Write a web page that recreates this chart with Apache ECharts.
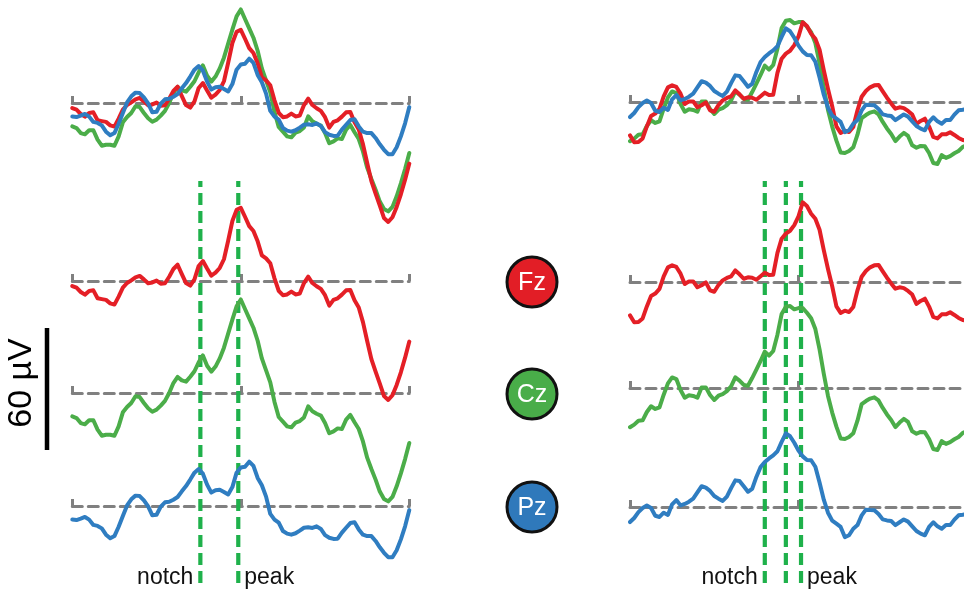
<!DOCTYPE html>
<html>
<head>
<meta charset="utf-8">
<script src="https://cdn.jsdelivr.net/npm/echarts@6/dist/echarts.min.js"></script>
<style>
  html, body { margin: 0; padding: 0; background: #fff; }
  #chart { width: 964px; height: 599px; }
</style>
</head>
<body>
<div id="chart"></div>
<script>
// ERP averages, 81 samples at 5 ms from -200 ms to +200 ms (µV)
const sampleTimes = Array.from({ length: 81 }, (_, i) => -200 + 5 * i);

const channels = ['Fz', 'Cz', 'Pz'];

const leftFz = [
  -2.5, -3.3, -5.4, -6.7, -4.9, -4.6, -8.5, -8.9, -9.3, -11.0,
  -11.6, -7.7, -3.3, -1.0, 0.3, 1.8, 2.5, 0.8, -1.1, -0.7,
  0.2, -1.3, -1.1, 2.1, 5.9, 8.0, 3.4, -1.0, -2.3, 0.8,
  7.4, 9.8, 6.1, 2.6, 4.1, 6.4, 10.7, 19.8, 29.5, 35.0,
  36.0, 31.6, 27.0, 24.6, 19.5, 12.6, 11.1, 8.7, 1.3, -4.8,
  -7.0, -6.6, -5.2, -6.6, -6.2, -1.0, 2.1, -1.0, -2.6, -3.9,
  -7.0, -12.1, -9.3, -8.5, -6.7, -4.6, -4.4, -9.5, -13.0, -20.2,
  -29.5, -38.4, -44.6, -50.5, -56.6, -58.5, -56.2, -51.1, -44.9, -37.7, -29.8
];
const leftCz = [
  -11.5, -12.3, -14.8, -15.4, -13.4, -13.4, -18.0, -21.0, -20.5, -20.5,
  -21.0, -16.4, -9.5, -6.9, -4.9, -1.6, -2.0, -4.9, -7.5, -9.2,
  -8.2, -6.2, -3.9, 0.0, 4.9, 7.9, 6.2, 5.6, 8.0, 10.7,
  15.1, 18.5, 13.4, 10.5, 13.0, 17.0, 22.3, 29.2, 36.1, 42.6,
  46.0, 41.3, 36.7, 32.1, 25.7, 17.0, 11.1, 5.2, -4.4, -11.8,
  -14.1, -16.4, -16.9, -14.6, -13.8, -12.0, -6.6, -9.0, -10.2, -11.1,
  -14.8, -19.8, -18.9, -17.4, -17.7, -13.1, -10.8, -14.4, -17.7, -23.8,
  -31.8, -37.4, -42.6, -48.5, -52.1, -53.3, -51.1, -45.9, -39.5, -32.5, -24.6
];
const leftPz = [
  -6.6, -6.9, -6.2, -5.4, -6.7, -9.3, -9.8, -11.0, -14.1, -15.9,
  -14.8, -10.2, -4.9, 0.3, 3.3, 5.1, 4.9, 2.8, -0.2, -4.6,
  -4.3, -0.3, 1.8, 2.1, 3.1, 4.4, 7.2, 9.8, 13.0, 16.4,
  18.2, 15.9, 10.5, 6.6, 7.7, 8.0, 6.9, 5.7, 9.3, 16.4,
  18.9, 19.3, 21.8, 19.7, 13.8, 10.2, 4.6, -3.9, -6.7, -8.2,
  -12.3, -13.6, -14.1, -13.4, -12.1, -10.7, -10.5, -10.8, -10.0, -11.3,
  -14.3, -15.6, -16.2, -16.1, -13.1, -10.7, -8.4, -8.0, -11.5, -14.1,
  -14.8, -14.8, -17.2, -20.3, -23.0, -25.2, -25.2, -21.8, -16.4, -10.0, -2.0
];
const rightFz = [
  -16.4, -19.8, -19.7, -17.9, -12.0, -6.9, -5.7, -3.4, 2.8, 7.2,
  8.2, 7.4, 4.1, -1.0, 0.3, 0.3, -2.6, -1.6, -0.2, -4.1,
  -4.8, -1.5, 0.8, 2.0, 2.8, 5.7, 3.8, 1.6, 2.3, 2.1,
  1.1, 2.8, 4.6, 3.4, 3.6, 14.3, 21.3, 23.8, 25.2, 28.0,
  32.3, 39.2, 37.4, 33.6, 31.1, 25.7, 15.7, 6.4, -2.1, -12.0,
  -15.2, -14.1, -14.8, -12.3, -4.1, 2.6, 5.4, 7.2, 8.2, 8.4,
  5.2, 2.1, -0.7, -3.3, -2.6, -3.0, -4.4, -6.2, -10.8, -9.3,
  -8.2, -12.1, -17.2, -17.9, -15.9, -15.9, -14.9, -16.2, -17.7, -18.7, -19.2
];
const rightCz = [
  -19.3, -18.0, -16.1, -15.9, -11.8, -9.0, -10.3, -9.5, -3.3, 2.3,
  5.2, 4.4, -1.0, -4.8, -3.6, -3.9, -4.8, 0.3, 0.3, -3.4,
  -5.9, -3.8, -3.0, -1.5, 0.8, 5.2, 3.6, 1.5, 1.1, 4.9,
  9.0, 13.3, 17.9, 15.9, 18.2, 26.2, 36.4, 40.0, 40.3, 38.7,
  39.3, 39.3, 37.0, 34.3, 29.0, 19.0, 7.0, -3.9, -12.1, -19.0,
  -24.8, -25.1, -24.1, -22.3, -16.1, -7.9, -6.4, -5.2, -4.6, -6.1,
  -9.8, -13.0, -15.7, -19.2, -17.0, -15.2, -16.7, -21.3, -22.5, -21.6,
  -21.8, -25.1, -30.0, -30.5, -26.1, -27.5, -26.6, -25.2, -24.1, -22.1, -21.3
];
const rightPz = [
  -7.4, -5.4, -2.5, -0.5, 0.7, -0.5, -4.3, -4.9, -2.8, -3.9,
  1.3, 3.4, 0.8, 1.5, 2.6, 4.1, 7.2, 10.2, 9.5, 7.9,
  5.4, 4.1, 3.0, 5.1, 9.3, 13.1, 12.8, 10.2, 7.5, 8.9,
  14.8, 19.7, 22.1, 23.9, 25.4, 27.4, 32.0, 36.2, 34.8, 31.6,
  27.7, 24.9, 23.1, 23.0, 19.8, 12.0, 3.6, -2.8, -6.7, -8.2,
  -9.8, -14.8, -13.9, -10.7, -8.9, -4.1, -1.3, -1.5, -1.6, -3.4,
  -6.1, -6.6, -6.9, -8.9, -7.5, -6.1, -7.2, -9.5, -11.8, -13.1,
  -13.9, -9.8, -7.5, -9.5, -10.7, -8.9, -8.9, -6.2, -4.1, -3.8, -3.3
];

// Event markers (ms): notch ... peak
const leftMarkers = [-48, -3];
const rightMarkers = [-40, -15, 3];
const markerLabels = ['notch', 'peak'];

// Calibration bar (µV)
const scaleBarValue = 60;

// ---------------------------------------------------------------- layout & style
const PX_PER_UV = 122 / 60;
const Y_MIN = -70, Y_MAX = 50;
const T_MIN = -200, T_MAX = 200;
const COLORS = { Fz: '#e41f26', Cz: '#4bad49', Pz: '#2f7dc1' };
const DOT_COLORS = { Fz: '#e21e26', Cz: '#49ad49', Pz: '#2f79bb' };
const MARKER_COLOR = '#1fb14b';
const BASE_COLOR = '#808080';
const FONT = '"Liberation Sans", Arial, Helvetica, sans-serif';

const panels = [
  { left: 72.3, width: 337, baselines: [103, 281, 393, 506],
    traces: { Fz: leftFz, Cz: leftCz, Pz: leftPz }, markers: leftMarkers },
  { left: 630, width: 337, baselines: [102, 282, 388, 507],
    traces: { Fz: rightFz, Cz: rightCz, Pz: rightPz }, markers: rightMarkers }
];
const MARKER_TOP = 181, MARKER_BOTTOM = 583;

const grids = [], xAxes = [], yAxes = [], series = [];

function makeGrid(rect) {
  return Object.assign({ containLabel: false, outerBoundsMode: 'none' }, rect);
}

function addTraceGrid(panel, baseline) {
  const idx = grids.length;
  grids.push(makeGrid({
    left: panel.left, width: panel.width,
    top: baseline - Y_MAX * PX_PER_UV,
    height: (Y_MAX - Y_MIN) * PX_PER_UV
  }));
  xAxes.push({
    gridIndex: idx, type: 'value', min: T_MIN, max: T_MAX, interval: 200,
    axisLine: { show: true, onZero: true,
      lineStyle: { color: BASE_COLOR, width: 3, type: [10, 6] } },
    axisTick: { show: true, inside: true, length: 7,
      lineStyle: { color: BASE_COLOR, width: 3 } },
    axisLabel: { show: false }, splitLine: { show: false }
  });
  yAxes.push({
    gridIndex: idx, type: 'value', min: Y_MIN, max: Y_MAX, show: false,
    splitLine: { show: false }
  });
  return idx;
}

function traceSeries(idx, ch, values, z) {
  return {
    type: 'line', xAxisIndex: idx, yAxisIndex: idx,
    data: sampleTimes.map((t, i) => [t, values[i]]),
    showSymbol: false, symbol: 'none', clip: false, silent: true,
    lineStyle: { color: COLORS[ch], width: 4, cap: 'round', join: 'round' },
    z: z, animation: false
  };
}

panels.forEach(panel => {
  // dashed event markers spanning the stacked traces
  const mIdx = grids.length;
  grids.push(makeGrid({ left: panel.left, width: panel.width, top: MARKER_TOP,
    height: MARKER_BOTTOM - MARKER_TOP }));
  xAxes.push({ gridIndex: mIdx, type: 'value', min: T_MIN, max: T_MAX, show: false });
  yAxes.push({ gridIndex: mIdx, type: 'value', min: 0, max: 1, show: false });
  panel.markers.forEach(t => {
    series.push({
      type: 'line', xAxisIndex: mIdx, yAxisIndex: mIdx,
      data: [[t, 0], [t, 1]], showSymbol: false, symbol: 'none', silent: true,
      lineStyle: { color: MARKER_COLOR, width: 4.2, type: [12, 6] },
      z: 1, animation: false
    });
  });

  // overlay of all three channels
  const oIdx = addTraceGrid(panel, panel.baselines[0]);
  ['Cz', 'Fz', 'Pz'].forEach((ch, k) => {
    series.push(traceSeries(oIdx, ch, panel.traces[ch], 3 + k));
  });

  // one row per channel
  channels.forEach((ch, k) => {
    const idx = addTraceGrid(panel, panel.baselines[k + 1]);
    series.push(traceSeries(idx, ch, panel.traces[ch], 3));
  });
});

// calibration bar
const sIdx = grids.length;
grids.push(makeGrid({ left: 40, width: 14, top: 328, height: scaleBarValue * PX_PER_UV }));
xAxes.push({ gridIndex: sIdx, type: 'value', min: -1, max: 1, show: false });
yAxes.push({ gridIndex: sIdx, type: 'value', min: 0, max: scaleBarValue, show: false });
series.push({
  type: 'line', xAxisIndex: sIdx, yAxisIndex: sIdx,
  data: [[0, 0], [0, scaleBarValue]], showSymbol: false, symbol: 'none', silent: true,
  lineStyle: { color: '#000', width: 4.5 }, z: 3, animation: false
});

// ---------------------------------------------------------------- annotations
function timeToX(panel, t) {
  return panel.left + (t - T_MIN) / (T_MAX - T_MIN) * panel.width;
}

const graphics = [];
panels.forEach(panel => {
  const first = panel.markers[0], last = panel.markers[panel.markers.length - 1];
  graphics.push({
    type: 'text', x: timeToX(panel, first) - 7, y: 578, silent: true,
    style: { text: markerLabels[0], font: '23px ' + FONT, fill: '#111',
      align: 'right', verticalAlign: 'middle', textAlign: 'right', textVerticalAlign: 'middle' }
  });
  graphics.push({
    type: 'text', x: timeToX(panel, last) + 6, y: 578, silent: true,
    style: { text: markerLabels[1], font: '23px ' + FONT, fill: '#111',
      align: 'left', verticalAlign: 'middle', textAlign: 'left', textVerticalAlign: 'middle' }
  });
});

channels.forEach((ch, k) => {
  const cy = panels[0].baselines[k + 1] + 1;
  graphics.push({
    type: 'circle', silent: true, shape: { cx: 532, cy: cy, r: 25 },
    style: { fill: DOT_COLORS[ch], stroke: '#111', lineWidth: 3 }, z: 10
  });
  graphics.push({
    type: 'text', x: 532, y: cy + 1, silent: true, z: 11,
    style: { text: ch, font: '25px ' + FONT, fill: '#fff',
      align: 'center', verticalAlign: 'middle', textAlign: 'center', textVerticalAlign: 'middle' }
  });
});

graphics.push({
  type: 'text', x: 22, y: 383, rotation: Math.PI / 2, silent: true,
  style: { text: scaleBarValue + ' µV', font: '34px ' + FONT, fill: '#000',
    align: 'center', verticalAlign: 'middle', textAlign: 'center', textVerticalAlign: 'middle' }
});

const chart = echarts.init(document.getElementById('chart'), null, { renderer: 'canvas' });
chart.setOption({
  backgroundColor: '#fff',
  animation: false,
  grid: grids,
  xAxis: xAxes,
  yAxis: yAxes,
  series: series,
  graphic: { elements: graphics }
});
</script>
</body>
</html>
